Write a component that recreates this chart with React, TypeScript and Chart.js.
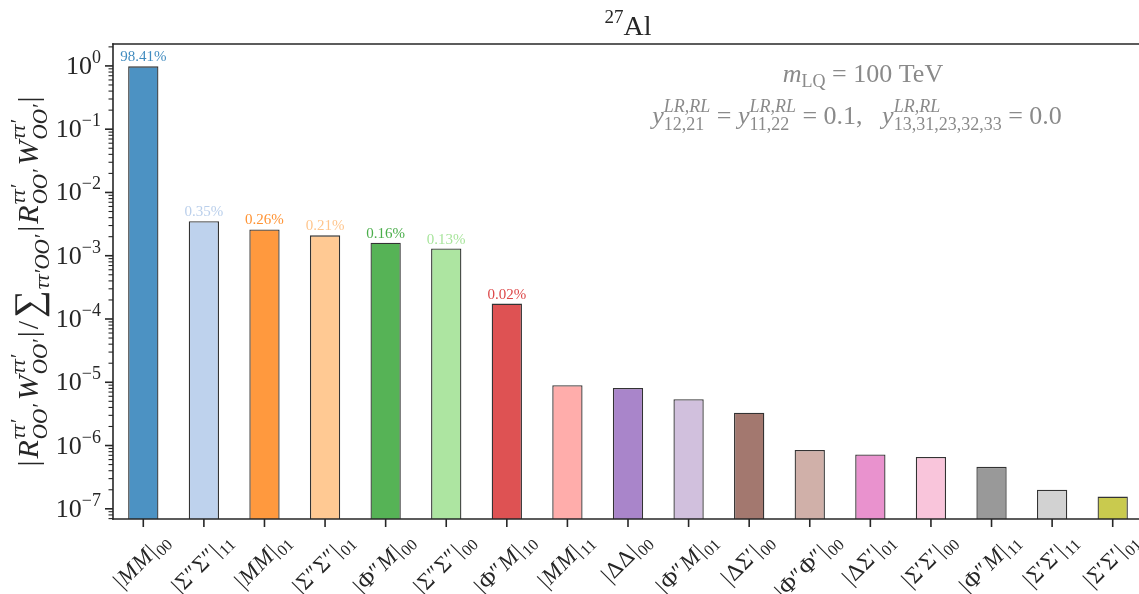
import React, { useEffect, useRef } from "react";
import { Chart, registerables } from "chart.js";

Chart.register(...registerables);

// ---------------- data ----------------
const categories = [
  "|MM|_00", "|Σ″Σ″|_11", "|MM|_01", "|Σ″Σ″|_01", "|Φ″M|_00", "|Σ″Σ″|_00",
  "|Φ″M|_10", "|MM|_11", "|ΔΔ|_00", "|Φ″M|_01", "|ΔΣ′|_00", "|Φ″Φ″|_00",
  "|ΔΣ′|_01", "|Σ′Σ′|_00", "|Φ″M|_11", "|Σ′Σ′|_11", "|Σ′Σ′|_01",
];
const values = [
  0.9841, 0.0035, 0.0026, 0.0021, 0.0016, 0.0013,
  1.75e-4, 9.0e-6, 8.1e-6, 5.4e-6, 3.3e-6, 8.5e-7,
  7.2e-7, 6.6e-7, 4.6e-7, 2.0e-7, 1.56e-7,
];
const percentLabels = [
  "98.41%", "0.35%", "0.26%", "0.21%", "0.16%", "0.13%", "0.02%",
  "", "", "", "", "", "", "", "", "", "",
];
const barColors = [
  "#1f77b4", "#aec7e8", "#ff7f0e", "#ffbb78", "#2ca02c", "#98df8a",
  "#d62728", "#ff9896", "#9467bd", "#c5b0d5", "#8c564b", "#c49c94",
  "#e377c2", "#f7b6d2", "#7f7f7f", "#c7c7c7", "#bcbd22",
];
const yTickExponents = [0, -1, -2, -3, -4, -5, -6, -7];
const yMin = 6.9e-8;
const yMax = 2.22;
const titleMass = "27";
const titleElement = "Al";

// ---------------- styling helpers ----------------
const FAMILY = '"Liberation Serif", "DejaVu Serif", serif';
const INK = "#262626";
const GRAY = "#8a8a8a";

function rgba(hex: string, a: number) {
  const n = parseInt(hex.slice(1), 16);
  return `rgba(${(n >> 16) & 255},${(n >> 8) & 255},${n & 255},${a})`;
}

type Seg = { t: string; size: number; italic?: boolean; dy?: number };
type Item = Seg | { stack: Seg[] } | { gap: number };

function fontOf(s: Seg) {
  return `${s.italic ? "italic " : ""}${s.size}px ${FAMILY}`;
}

function segW(ctx: CanvasRenderingContext2D, s: Seg) {
  ctx.font = fontOf(s);
  return ctx.measureText(s.t).width;
}

function itemsWidth(ctx: CanvasRenderingContext2D, items: Item[]) {
  let w = 0;
  for (const it of items) {
    if ("gap" in it) w += it.gap;
    else if ("stack" in it) w += Math.max(...it.stack.map((s) => segW(ctx, s)));
    else w += segW(ctx, it);
  }
  return w;
}

function drawItems(ctx: CanvasRenderingContext2D, items: Item[], x: number, y: number) {
  ctx.textAlign = "left";
  ctx.textBaseline = "alphabetic";
  let cx = x;
  for (const it of items) {
    if ("gap" in it) {
      cx += it.gap;
    } else if ("stack" in it) {
      let m = 0;
      for (const s of it.stack) {
        ctx.font = fontOf(s);
        ctx.fillText(s.t, cx, y + (s.dy || 0));
        m = Math.max(m, ctx.measureText(s.t).width);
      }
      cx += m;
    } else {
      ctx.font = fontOf(it);
      ctx.fillText(it.t, cx, y + (it.dy || 0));
      cx += ctx.measureText(it.t).width;
    }
  }
}

// split into italic (latin letters, lowercase greek) and upright glyphs, with a little math spacing
function math(str: string, size: number, dy = 0): Item[] {
  const out: Item[] = [];
  for (const ch of Array.from(str)) {
    const it = /[A-Za-z\u03b1-\u03c9]/.test(ch);
    const prime = ch === "′" || ch === "″";
    if (out.length && !prime) out.push({ gap: size * 0.04 });
    out.push({ t: ch, size, italic: it, dy });
  }
  return out;
}

function xLabelItems(label: string): Item[] {
  const [main, sub] = label.split("_");
  return [...math(main, 23), { gap: 1 }, { t: sub, size: 16, dy: 5 }];
}

function scriptPair(B: number, S: number): Item {
  return {
    stack: [
      { t: "ττ′", size: S, italic: true, dy: -0.42 * B },
      { t: "OO′", size: S, italic: true, dy: 0.3 * B },
    ],
  };
}

function yLabelItems(): Item[] {
  const B = 30;
  const S = 21;
  const rw: Item[] = [
    { t: "R", size: B, italic: true },
    { gap: 1 },
    scriptPair(B, S),
    { gap: 4 },
    { t: "W", size: B, italic: true },
    { gap: 1 },
    scriptPair(B, S),
  ];
  return [
    { t: "|", size: B },
    { gap: 2 },
    ...rw,
    { gap: 2 },
    { t: "|", size: B },
    { gap: 2 },
    { t: "/", size: B },
    { gap: 3 },
    { t: "∑", size: B * 1.3, dy: 0.1 * B },
    { gap: 1 },
    { t: "ττ′OO′", size: S, italic: true, dy: 0.38 * B },
    { gap: 3 },
    { t: "|", size: B },
    { gap: 2 },
    ...rw,
    { gap: 2 },
    { t: "|", size: B },
  ];
}

function annotLine1(): Item[] {
  return [
    { t: "m", size: 26, italic: true },
    { t: "LQ", size: 18, dy: 5 },
    { t: " = 100 TeV", size: 26 },
  ];
}

function yStack(sub: string): Item {
  return {
    stack: [
      { t: "LR,RL", size: 18, italic: true, dy: -12 },
      { t: sub, size: 18, dy: 6 },
    ],
  };
}

function annotLine2(): Item[] {
  return [
    { t: "y", size: 26, italic: true },
    yStack("12,21"),
    { t: " = ", size: 26 },
    { t: "y", size: 26, italic: true },
    yStack("11,22"),
    { t: " = 0.1,   ", size: 26 },
    { t: "y", size: 26, italic: true },
    yStack("13,31,23,32,33"),
    { t: " = 0.0", size: 26 },
  ];
}

function line(ctx: CanvasRenderingContext2D, x1: number, y1: number, x2: number, y2: number) {
  ctx.beginPath();
  ctx.moveTo(x1, y1);
  ctx.lineTo(x2, y2);
  ctx.stroke();
}

const overlay = {
  id: "overlay",
  afterDraw(chart: any) {
    const ctx: CanvasRenderingContext2D = chart.ctx;
    const ca = chart.chartArea;
    const xs = chart.scales.x;
    const ys = chart.scales.y;
    ctx.save();

    // percentage labels
    const meta = chart.getDatasetMeta(0);
    meta.data.forEach((bar: any, i: number) => {
      const txt = percentLabels[i];
      if (!txt) return;
      ctx.font = `15px ${FAMILY}`;
      ctx.fillStyle = rgba(barColors[i], 0.85);
      ctx.textAlign = "center";
      ctx.textBaseline = "alphabetic";
      ctx.fillText(txt, bar.x, bar.y - 5);
    });

    // spines
    ctx.strokeStyle = INK;
    ctx.lineWidth = 1.6;
    ctx.lineCap = "square";
    line(ctx, ca.left, ca.top, ca.right, ca.top);
    line(ctx, ca.right, ca.top, ca.right, ca.bottom);
    line(ctx, ca.left, ca.top, ca.left, ca.bottom);
    line(ctx, ca.left, ca.bottom, ca.right, ca.bottom);
    ctx.lineCap = "butt";

    // x ticks and labels (rotated 45deg, bbox centred under the tick)
    ctx.fillStyle = INK;
    const c = Math.SQRT1_2;
    xs.ticks.forEach((_: any, i: number) => {
      const x = xs.getPixelForTick(i);
      ctx.lineWidth = 1.6;
      line(ctx, x, ca.bottom, x, ca.bottom + 8);
      const items = xLabelItems(categories[i]);
      const w = itemsWidth(ctx, items);
      const asc = 17;
      const desc = 9;
      const cxOff = (-c * w - c * asc + c * desc) / 2;
      const yTop = ca.bottom + 11;
      ctx.save();
      ctx.translate(x - cxOff, yTop + c * asc);
      ctx.rotate(-Math.PI / 4);
      drawItems(ctx, items, -w, 0);
      ctx.restore();
    });

    // y major ticks and labels
    yTickExponents.forEach((e) => {
      const y = ys.getPixelForValue(Math.pow(10, e));
      ctx.lineWidth = 1.6;
      line(ctx, ca.left - 8, y, ca.left, y);
      const items: Item[] = [
        { t: "10", size: 26 },
        { t: e === 0 ? "0" : "−" + String(-e), size: 18, dy: -11 },
      ];
      const w = itemsWidth(ctx, items);
      drawItems(ctx, items, ca.left - 12 - w, y + 8);
    });
    // y minor ticks
    ctx.lineWidth = 1.1;
    for (let e = -8; e <= 0; e++) {
      for (let k = 2; k <= 9; k++) {
        const v = k * Math.pow(10, e);
        if (v < yMin || v > yMax) continue;
        const y = ys.getPixelForValue(v);
        line(ctx, ca.left - 4.5, y, ca.left, y);
      }
    }

    // y axis title
    const yl = yLabelItems();
    const ylw = itemsWidth(ctx, yl);
    ctx.save();
    ctx.translate(38, (ca.top + ca.bottom) / 2);
    ctx.rotate(-Math.PI / 2);
    drawItems(ctx, yl, -ylw / 2, 0);
    ctx.restore();

    // title
    const tItems: Item[] = [
      { t: titleMass, size: 19, dy: -12 },
      { t: titleElement, size: 28 },
    ];
    const tw = itemsWidth(ctx, tItems);
    drawItems(ctx, tItems, (ca.left + ca.right) / 2 - tw / 2, 35);

    // annotation
    ctx.fillStyle = GRAY;
    const a1 = annotLine1();
    drawItems(ctx, a1, 863 - itemsWidth(ctx, a1) / 2, 82);
    const a2 = annotLine2();
    drawItems(ctx, a2, 857 - itemsWidth(ctx, a2) / 2, 124);

    ctx.restore();
  },
};

export default function App() {
  const ref = useRef<HTMLCanvasElement>(null);
  useEffect(() => {
    if (!ref.current) return;
    const chart = new Chart(ref.current, {
      type: "bar",
      data: {
        labels: categories,
        datasets: [
          {
            data: values,
            backgroundColor: barColors.map((h) => rgba(h, 0.8)),
            borderColor: "rgba(0,0,0,0.8)",
            borderWidth: 1.3,
            barPercentage: 0.5,
            categoryPercentage: 1.0,
          },
        ],
      },
      options: {
        responsive: false,
        animation: false,
        events: [],
        layout: { padding: { left: 0, top: 44, right: 17, bottom: 0 } },
        plugins: { legend: { display: false }, tooltip: { enabled: false }, title: { display: false } },
        scales: {
          x: {
            type: "category",
            offset: true,
            grid: { display: false },
            border: { display: false },
            ticks: { display: false },
            afterFit: (s: any) => {
              s.height = 75;
              s.paddingLeft = 0;
              s.paddingRight = 0;
            },
          },
          y: {
            type: "logarithmic",
            min: yMin,
            max: yMax,
            grid: { display: false },
            border: { display: false },
            ticks: { display: false },
            afterFit: (s: any) => {
              s.width = 113;
              s.paddingTop = 0;
              s.paddingBottom = 0;
            },
          },
        },
      },
      plugins: [overlay],
    });
    return () => chart.destroy();
  }, []);
  return (
    <div style={{ position: "fixed", left: 0, top: 0, width: 1139, height: 594, overflow: "hidden", background: "#fff" }}>
      <canvas ref={ref} width={1160} height={594} style={{ width: 1160, height: 594, display: "block" }} />
    </div>
  );
}
